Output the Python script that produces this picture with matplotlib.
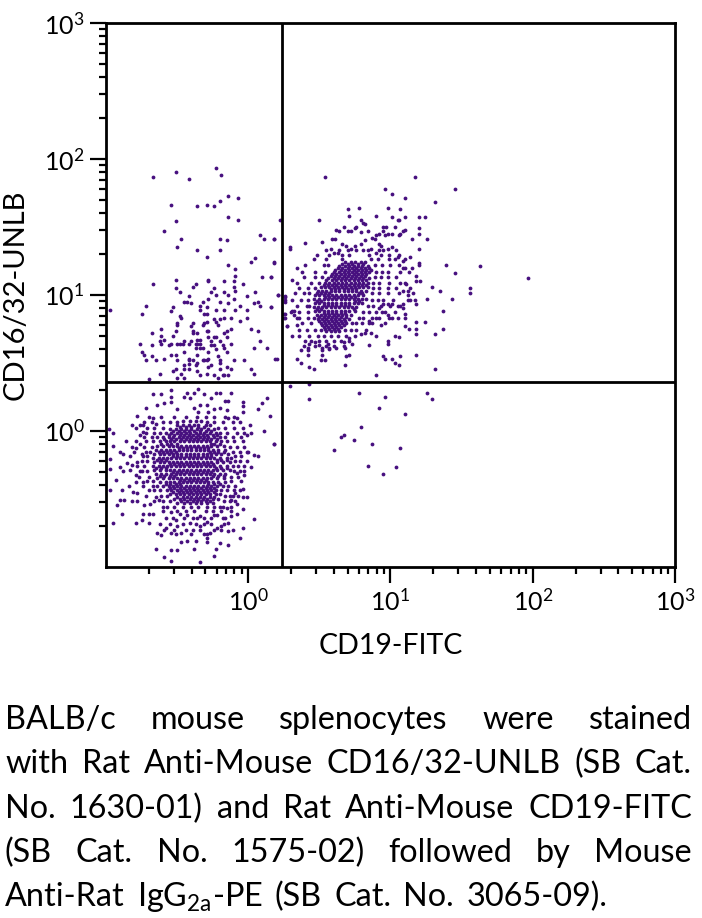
import matplotlib
matplotlib.use('Agg')
import matplotlib.pyplot as plt
from matplotlib.ticker import LogLocator, NullFormatter

# all events as log10(value) pairs
low_core_rows = [
    (0.07, [-0.46, -0.41, -0.37, -0.33]),
    (0.04, [-0.50, -0.46, -0.42, -0.38, -0.35, -0.30, -0.27]),
    (0.01, [-0.55, -0.51, -0.47, -0.44, -0.40, -0.36, -0.33, -0.28, -0.24]),
    (-0.02, [-0.58, -0.54, -0.50, -0.47, -0.44, -0.41, -0.37, -0.34, -0.31, -0.27, -0.23]),
    (-0.05, [-0.60, -0.56, -0.53, -0.49, -0.46, -0.43, -0.40, -0.37, -0.34, -0.31, -0.28, -0.24, -0.20]),
    (-0.08, [-0.62, -0.58, -0.55, -0.52, -0.48, -0.45, -0.42, -0.39, -0.36, -0.33, -0.30, -0.27, -0.23, -0.19]),
    (-0.11, [-0.64, -0.60, -0.56, -0.53, -0.50, -0.47, -0.44, -0.41, -0.38, -0.35, -0.32, -0.29, -0.26, -0.22, -0.17]),
    (-0.14, [-0.65, -0.61, -0.58, -0.55, -0.52, -0.49, -0.46, -0.43, -0.40, -0.37, -0.34, -0.31, -0.28, -0.25, -0.21, -0.16]),
    (-0.17, [-0.66, -0.62, -0.59, -0.56, -0.53, -0.50, -0.47, -0.44, -0.41, -0.38, -0.35, -0.32, -0.29, -0.26, -0.23, -0.19, -0.14]),
    (-0.20, [-0.67, -0.63, -0.60, -0.57, -0.54, -0.51, -0.48, -0.45, -0.42, -0.39, -0.36, -0.33, -0.30, -0.27, -0.24, -0.20, -0.15, -0.12]),
    (-0.23, [-0.66, -0.62, -0.59, -0.56, -0.53, -0.50, -0.47, -0.44, -0.41, -0.38, -0.35, -0.32, -0.29, -0.26, -0.22, -0.18, -0.13]),
    (-0.26, [-0.67, -0.63, -0.60, -0.57, -0.54, -0.51, -0.48, -0.45, -0.42, -0.39, -0.36, -0.33, -0.30, -0.27, -0.24, -0.20, -0.15, -0.11]),
    (-0.29, [-0.66, -0.62, -0.58, -0.55, -0.52, -0.49, -0.46, -0.43, -0.40, -0.37, -0.34, -0.31, -0.28, -0.25, -0.22, -0.18, -0.13]),
    (-0.32, [-0.65, -0.61, -0.58, -0.54, -0.51, -0.48, -0.45, -0.42, -0.39, -0.36, -0.33, -0.30, -0.27, -0.24, -0.20, -0.16]),
    (-0.35, [-0.64, -0.60, -0.56, -0.53, -0.50, -0.47, -0.44, -0.41, -0.38, -0.35, -0.32, -0.29, -0.26, -0.22, -0.17]),
    (-0.38, [-0.62, -0.58, -0.55, -0.52, -0.49, -0.46, -0.43, -0.40, -0.37, -0.34, -0.31, -0.28, -0.25, -0.21, -0.16]),
    (-0.41, [-0.60, -0.56, -0.53, -0.50, -0.47, -0.44, -0.41, -0.38, -0.35, -0.32, -0.29, -0.26, -0.22, -0.18]),
    (-0.44, [-0.57, -0.54, -0.50, -0.47, -0.44, -0.41, -0.38, -0.35, -0.32, -0.29, -0.26, -0.23, -0.19]),
    (-0.47, [-0.55, -0.51, -0.48, -0.45, -0.42, -0.39, -0.36, -0.33, -0.30, -0.27, -0.23, -0.20]),
    (-0.50, [-0.52, -0.48, -0.45, -0.41, -0.38, -0.35, -0.32, -0.29, -0.25, -0.21]),
    (-0.53, [-0.50, -0.45, -0.41, -0.37, -0.33, -0.29, -0.25]),
    (-0.56, [-0.46, -0.40, -0.35, -0.29]),
    # centre of the blob, solid in the reference
    (-0.125, [-0.49, -0.46, -0.43, -0.40, -0.37, -0.34, -0.31, -0.28]),
    (-0.185, [-0.53, -0.50, -0.47, -0.44, -0.41, -0.38, -0.35, -0.32, -0.29, -0.26]),
    (-0.245, [-0.55, -0.52, -0.49, -0.46, -0.43, -0.40, -0.37, -0.34, -0.31, -0.28, -0.25]),
    (-0.305, [-0.53, -0.50, -0.47, -0.44, -0.41, -0.38, -0.35, -0.32, -0.29, -0.26]),
    (-0.365, [-0.48, -0.45, -0.42, -0.39, -0.36, -0.33, -0.30]),
    (0.025, [-0.48, -0.44, -0.40, -0.35, -0.31]),
    (-0.005, [-0.53, -0.49, -0.45, -0.42, -0.38, -0.34, -0.30, -0.26]),
    (-0.035, [-0.56, -0.52, -0.48, -0.45, -0.42, -0.39, -0.35, -0.32, -0.29, -0.25, -0.22]),
    (-0.065, [-0.59, -0.54, -0.51, -0.47, -0.44, -0.41, -0.38, -0.35, -0.32, -0.29, -0.26, -0.22]),
    (-0.095, [-0.61, -0.57, -0.54, -0.50, -0.26, -0.24, -0.20]),
    (-0.155, [-0.63, -0.60, -0.57, -0.54, -0.51, -0.27, -0.24, -0.21, -0.17]),
    (-0.215, [-0.64, -0.61, -0.58, -0.22, -0.19, -0.15]),
    (-0.275, [-0.65, -0.61, -0.58, -0.23, -0.19, -0.15]),
    (-0.335, [-0.62, -0.59, -0.55, -0.52, -0.25, -0.21, -0.17]),
    (-0.395, [-0.58, -0.55, -0.51, -0.48, -0.28, -0.24, -0.20]),
    (-0.425, [-0.55, -0.52, -0.48, -0.45, -0.42, -0.39, -0.36, -0.33, -0.30, -0.27, -0.24]),
    (-0.455, [-0.53, -0.49, -0.46, -0.43, -0.40, -0.37, -0.34, -0.31, -0.28, -0.24]),
    (-0.485, [-0.50, -0.46, -0.43, -0.40, -0.37, -0.34, -0.31, -0.27, -0.24]),
    (-0.515, [-0.47, -0.43, -0.39, -0.36, -0.33, -0.30, -0.27]),
]

low_ring_rows = [
    (0.10, [-0.70, -0.61, -0.52, -0.44, -0.36, -0.30, -0.24, -0.16, -0.10]),
    (0.06, [-0.73, -0.68, -0.60, -0.55, -0.50, -0.29, -0.24, -0.18, -0.11, -0.06]),
    (0.02, [-0.79, -0.71, -0.66, -0.60, -0.21, -0.16, -0.10, -0.04]),
    (-0.02, [-0.72, -0.66, -0.62, -0.20, -0.15, -0.08, -0.03]),
    (-0.05, [-0.73, -0.68, -0.64, -0.16, -0.11, -0.05]),
    (-0.08, [-0.79, -0.72, -0.67, -0.15, -0.10, -0.04]),
    (-0.12, [-0.73, -0.68, -0.13, -0.08, -0.03]),
    (-0.16, [-0.80, -0.72, -0.69, -0.11, -0.06, 0.00]),
    (-0.19, [-0.83, -0.74, -0.71, -0.09, -0.05]),
    (-0.22, [-0.75, -0.71, -0.09, -0.06, -0.01]),
    (-0.26, [-0.78, -0.73, -0.07, -0.03]),
    (-0.30, [-0.76, -0.71, -0.10, -0.06]),
    (-0.34, [-0.77, -0.70, -0.12, -0.07]),
    (-0.37, [-0.71, -0.67, -0.12, -0.05]),
    (-0.41, [-0.74, -0.67, -0.64, -0.14, -0.09]),
    (-0.44, [-0.66, -0.62, -0.15, -0.10, -0.06]),
    (-0.48, [-0.72, -0.61, -0.57, -0.16, -0.11, -0.07]),
    (-0.52, [-0.66, -0.60, -0.55, -0.17, -0.13, -0.09]),
    (-0.56, [-0.57, -0.52, -0.24, -0.18, -0.12]),
    (-0.59, [-0.60, -0.50, -0.44, -0.38, -0.30, -0.25, -0.19, -0.12]),
    (-0.64, [-0.58, -0.53, -0.45, -0.39, -0.36, -0.31, -0.26, -0.18, -0.16]),
    (-0.69, [-0.62, -0.55, -0.46, -0.37, -0.31, -0.26, -0.17]),
    (-0.73, [-0.59, -0.52, -0.44, -0.39, -0.34, -0.24, -0.19, -0.11]),
]

low_outer = [
    (-0.98, 0.01), (-0.95, -0.02), (-0.95, -0.11), (-0.97, -0.21), (-0.97, -0.28), (-0.93, -0.36),
    (-0.97, -0.44), (-0.92, -0.55), (-0.95, -0.68), (-0.89, -0.61), (-0.90, -0.51), (-0.87, -0.51),
    (-0.89, -0.44), (-0.86, -0.08), (-0.82, -0.12), (-0.79, -0.13), (-0.90, -0.16), (-0.88, -0.17),
    (-0.85, -0.24), (-0.82, -0.25), (-0.90, -0.27), (-0.88, -0.30), (-0.83, -0.29), (-0.79, -0.33),
    (-0.79, -0.38), (-0.84, -0.41), (-0.81, -0.45), (-0.78, -0.46), (-0.82, -0.52), (-0.78, -0.52),
    (-0.79, -0.68), (-0.75, -0.66), (-0.70, -0.68), (-0.74, -0.61), (-0.70, -0.61), (-0.67, -0.61),
    (-0.73, -0.55), (-0.69, -0.54), (-0.65, -0.49), (-0.70, -0.44), (-0.74, -0.38), (-0.75, -0.30),
    (-0.78, -0.23), (-0.75, -0.17), (-0.76, -0.10), (-0.76, -0.03), (-0.74, -0.01), (-0.82, 0.04),
    (-0.76, 0.04), (-0.74, 0.04), (-0.78, 0.11), (-0.72, 0.17), (-0.67, 0.09), (-0.65, 0.05),
    (-0.64, 0.19), (-0.67, 0.27), (-0.61, 0.27), (-0.70, 0.38), (-0.54, 0.30), (-0.54, 0.25),
    (-0.59, 0.20), (-0.54, 0.21), (-0.50, 0.16), (-0.45, 0.25), (-0.43, 0.28), (-0.38, 0.28),
    (-0.41, 0.24), (-0.35, 0.31), (-0.31, 0.27), (-0.23, 0.28), (-0.20, 0.28), (-0.12, 0.28),
    (-0.26, 0.24), (-0.16, 0.22), (-0.14, 0.22), (-0.04, 0.21), (-0.04, 0.18), (-0.04, 0.14),
    (-0.20, 0.17), (-0.29, 0.19), (-0.34, 0.19), (-0.38, 0.17), (-0.35, 0.14), (-0.28, 0.14),
    (-0.24, 0.16), (-0.15, 0.15), (-0.08, 0.09), (-0.14, 0.09), (0.13, 0.24), (0.10, 0.20),
    (0.07, 0.16), (0.15, 0.11), (0.01, 0.04), (0.11, 0.00), (0.02, -0.02), (-0.01, -0.03),
    (0.18, -0.10), (-0.01, -0.16), (0.04, -0.18), (0.07, -0.19), (0.02, -0.27), (-0.03, -0.30),
    (-0.03, -0.33), (-0.08, -0.31), (-0.04, -0.43), (-0.01, -0.49), (-0.04, -0.49), (-0.09, -0.46),
    (-0.12, -0.51), (-0.08, -0.54), (-0.04, -0.58), (0.04, -0.65), (-0.08, -0.61), (-0.12, -0.63),
    (-0.15, -0.57), (-0.22, -0.62), (-0.14, -0.68), (-0.19, -0.70), (-0.22, -0.72), (-0.14, -0.74),
    (-0.04, -0.72), (-0.06, -0.79), (-0.14, -0.84), (-0.20, -0.83), (-0.23, -0.87), (-0.24, -0.92),
    (-0.29, -0.76), (-0.29, -0.79), (-0.29, -0.82), (-0.31, -0.76), (-0.27, -0.75), (-0.34, -0.97),
    (-0.37, -0.81), (-0.40, -0.76), (-0.43, -0.81), (-0.47, -0.82), (-0.47, -0.75), (-0.51, -0.76),
    (-0.54, -0.75), (-0.61, -0.77), (-0.64, -0.75), (-0.65, -0.87), (-0.59, -0.93), (-0.54, -0.88),
    (-0.54, -0.96), (-0.50, -0.88), (-0.38, -0.87), (-0.58, -0.72), (-0.50, -0.70), (-0.51, -0.66),
    (-0.41, -0.68), (-0.34, -0.70), (-0.29, -0.67), (-0.34, -0.63), (-0.43, -0.62), (-0.48, -0.61),
    (-0.24, -0.62), (-0.54, -0.60), (-0.60, -0.56), (-0.63, -0.51), (-0.20, -0.56), (-0.13, -0.48),
]

upper_left = [
    (-0.67, 1.87), (-0.51, 1.90), (-0.42, 1.85), (-0.23, 1.93), (-0.19, 1.88), (-0.54, 1.66),
    (-0.36, 1.65), (-0.29, 1.66), (-0.24, 1.65), (-0.20, 1.69), (-0.14, 1.73), (-0.07, 1.71),
    (-0.14, 1.57), (-0.07, 1.55), (-0.51, 1.54), (-0.59, 1.47), (-0.47, 1.41), (-0.50, 1.35),
    (-0.36, 1.33), (-0.29, 1.28), (-0.20, 1.41), (-0.15, 1.40), (-0.20, 1.33), (0.22, 1.55),
    (0.08, 1.44), (0.11, 1.41), (0.18, 1.41), (0.29, 1.35), (0.05, 1.27), (0.02, 1.24),
    (0.18, 1.24), (-0.14, 1.22), (-0.09, 1.19), (-0.09, 1.14), (0.10, 1.13), (0.16, 1.13),
    (-0.51, 1.11), (-0.67, 1.08), (-0.28, 1.11), (-0.28, 1.10), (-0.17, 1.10), (-0.10, 1.10),
    (-0.10, 1.06), (-0.04, 1.08), (-0.37, 1.08), (-0.39, 1.06), (-0.51, 1.05), (-0.48, 1.02),
    (-0.24, 1.05), (-0.09, 1.03), (-0.26, 1.02), (-0.23, 1.00), (-0.17, 1.02), (-0.14, 1.00),
    (-0.01, 0.99), (0.05, 1.02), (0.21, 1.00), (0.26, 0.99), (0.26, 0.95), (-0.42, 0.99),
    (-0.45, 0.95), (-0.43, 0.95), (-0.40, 0.94), (-0.28, 0.97), (-0.20, 0.95), (-0.10, 0.97),
    (-0.32, 0.95), (-0.34, 0.92), (-0.29, 0.91), (-0.34, 0.89), (-0.23, 0.89), (-0.17, 0.89),
    (-0.14, 0.94), (-0.06, 0.92), (-0.09, 0.89), (-0.01, 0.89), (0.04, 0.94), (0.07, 0.95),
    (0.08, 0.92), (0.16, 0.91), (-0.97, 0.89), (-0.72, 0.92), (-0.75, 0.86), (-0.54, 0.88),
    (-0.53, 0.91), (-0.48, 0.84), (-0.47, 0.83), (-0.50, 0.79), (-0.50, 0.78), (-0.39, 0.79),
    (-0.40, 0.77), (-0.31, 0.86), (-0.29, 0.86), (-0.31, 0.79), (-0.29, 0.80), (-0.32, 0.78),
    (-0.24, 0.82), (-0.23, 0.80), (-0.21, 0.78), (-0.20, 0.82), (-0.17, 0.83), (-0.12, 0.83),
    (-0.06, 0.81), (-0.01, 0.83), (0.26, 0.86), (0.26, 0.83), (0.27, 0.77), (0.02, 0.75),
    (0.07, 0.73), (-0.12, 0.75), (-0.15, 0.73), (-0.17, 0.72), (-0.29, 0.73), (-0.28, 0.73),
    (-0.39, 0.73), (-0.39, 0.72), (-0.36, 0.72), (-0.51, 0.73), (-0.61, 0.75), (-0.68, 0.72),
    (-0.61, 0.70), (-0.53, 0.70), (-0.59, 0.67), (-0.62, 0.66), (-0.61, 0.64), (-0.76, 0.64),
    (-0.68, 0.63), (-0.56, 0.63), (-0.54, 0.64), (-0.50, 0.64), (-0.48, 0.64), (-0.46, 0.64),
    (-0.45, 0.66), (-0.42, 0.64), (-0.40, 0.66), (-0.36, 0.67), (-0.34, 0.67), (-0.37, 0.64),
    (-0.36, 0.64), (-0.34, 0.64), (-0.37, 0.61), (-0.34, 0.61), (-0.32, 0.61), (-0.28, 0.69),
    (-0.24, 0.69), (-0.23, 0.69), (-0.15, 0.69), (-0.26, 0.66), (-0.20, 0.66), (-0.26, 0.63),
    (-0.24, 0.63), (-0.18, 0.63), (-0.17, 0.61), (-0.12, 0.64), (0.08, 0.66), (0.04, 0.61),
    (0.13, 0.61), (-0.23, 0.60), (-0.15, 0.58), (-0.28, 0.58), (-0.45, 0.58), (-0.36, 0.56),
    (-0.54, 0.56), (-0.51, 0.56), (-0.75, 0.58), (-0.73, 0.56), (-0.68, 0.55), (-0.72, 0.52),
    (-0.65, 0.52), (-0.59, 0.53), (-0.50, 0.52), (-0.42, 0.53), (-0.42, 0.52), (-0.39, 0.52),
    (-0.32, 0.52), (-0.31, 0.52), (-0.29, 0.52), (-0.28, 0.53), (-0.21, 0.55), (-0.20, 0.52),
    (-0.20, 0.50), (-0.10, 0.52), (-0.03, 0.52), (0.19, 0.53), (-0.36, 0.50), (-0.37, 0.48),
    (-0.42, 0.49), (-0.45, 0.48), (-0.26, 0.48), (-0.28, 0.47), (-0.15, 0.47), (-0.12, 0.45),
    (0.02, 0.45), (0.04, 0.42), (-0.51, 0.45), (-0.53, 0.44), (-0.42, 0.45), (-0.45, 0.45),
    (-0.36, 0.44), (-0.20, 0.45), (-0.62, 0.42), (-0.47, 0.42), (-0.34, 0.41), (-0.29, 0.42),
    (-0.24, 0.41), (-0.18, 0.41), (-0.17, 0.41), (-0.14, 0.41), (-0.50, 0.39), (-0.45, 0.39),
    (-0.21, 0.39),
]

high_core_rows = [
    (1.24, [0.68, 0.72, 0.75, 0.79, 0.82]),
    (1.21, [0.64, 0.68, 0.71, 0.74, 0.77, 0.80, 0.84]),
    (1.18, [0.61, 0.65, 0.68, 0.71, 0.74, 0.77, 0.80, 0.83, 0.86]),
    (1.15, [0.59, 0.62, 0.65, 0.68, 0.71, 0.74, 0.77, 0.80, 0.83]),
    (1.12, [0.56, 0.60, 0.63, 0.66, 0.69, 0.72, 0.75, 0.78, 0.81, 0.85]),
    (1.09, [0.54, 0.57, 0.60, 0.63, 0.66, 0.69, 0.72, 0.75, 0.78, 0.81, 0.84]),
    (1.06, [0.51, 0.54, 0.57, 0.60, 0.63, 0.66, 0.69, 0.72, 0.75, 0.78, 0.81, 0.84]),
    (1.03, [0.49, 0.52, 0.55, 0.58, 0.61, 0.64, 0.67, 0.70, 0.73, 0.76, 0.79, 0.83]),
    (1.00, [0.47, 0.50, 0.53, 0.56, 0.59, 0.62, 0.65, 0.68, 0.71, 0.74, 0.77, 0.81]),
    (0.97, [0.46, 0.50, 0.53, 0.56, 0.59, 0.62, 0.65, 0.68, 0.71, 0.74, 0.77, 0.80, 0.83]),
    (0.94, [0.47, 0.50, 0.53, 0.56, 0.59, 0.62, 0.65, 0.68, 0.71, 0.74, 0.77, 0.80]),
    (0.91, [0.46, 0.49, 0.52, 0.55, 0.58, 0.61, 0.64, 0.67, 0.70, 0.73, 0.76]),
    (0.88, [0.47, 0.50, 0.53, 0.56, 0.59, 0.62, 0.65, 0.68, 0.71, 0.75]),
    (0.85, [0.48, 0.51, 0.54, 0.57, 0.60, 0.63, 0.66, 0.69, 0.72]),
    (0.82, [0.49, 0.52, 0.55, 0.58, 0.61, 0.64, 0.67, 0.71]),
    (0.79, [0.51, 0.54, 0.57, 0.60, 0.63, 0.66, 0.69]),
    (0.76, [0.53, 0.56, 0.59, 0.62, 0.65]),
    (0.73, [0.55, 0.58, 0.61, 0.64]),
    (1.045, [0.58, 0.61, 0.64, 0.67, 0.70, 0.73, 0.76]),
    (0.985, [0.54, 0.57, 0.60, 0.63, 0.66, 0.69, 0.72, 0.75]),
    (0.925, [0.53, 0.56, 0.59, 0.62, 0.65, 0.68, 0.71]),
    (0.865, [0.53, 0.56, 0.59, 0.62, 0.65, 0.68]),
    (1.225, [0.66, 0.70, 0.73, 0.77, 0.81]),
    (1.195, [0.63, 0.66, 0.70, 0.73, 0.76, 0.79, 0.82, 0.85]),
    (1.165, [0.60, 0.64, 0.67, 0.70, 0.73, 0.76, 0.79, 0.82, 0.85]),
    (1.135, [0.58, 0.61, 0.64, 0.67, 0.70, 0.73, 0.76, 0.79, 0.82]),
    (1.105, [0.55, 0.59, 0.62, 0.65, 0.68, 0.71, 0.74, 0.77, 0.80, 0.83]),
    (1.075, [0.53, 0.56, 0.59, 0.62, 0.65, 0.68, 0.71, 0.74, 0.77, 0.80, 0.83]),
    (1.015, [0.48, 0.51, 0.54, 0.57, 0.78, 0.80]),
    (0.955, [0.48, 0.51, 0.75, 0.78]),
    (0.895, [0.48, 0.51, 0.74]),
    (0.835, [0.50, 0.53, 0.56, 0.59, 0.62, 0.65, 0.69]),
    (0.805, [0.50, 0.53, 0.56, 0.59, 0.62, 0.65, 0.68]),
    (0.775, [0.52, 0.55, 0.58, 0.61, 0.64, 0.67]),
    (0.745, [0.54, 0.57, 0.60, 0.63]),
]

high_ring_rows = [
    (1.33, [0.55, 0.64, 0.70, 0.76, 0.84, 0.92, 1.04]),
    (1.29, [0.48, 0.57, 0.66, 0.71, 0.85, 0.93, 0.99, 1.06]),
    (1.26, [0.46, 0.55, 0.66, 0.86, 0.91, 0.99, 1.03, 1.10]),
    (1.22, [0.40, 0.53, 0.56, 0.89, 0.94, 1.00, 1.06]),
    (1.17, [0.38, 0.47, 0.54, 0.90, 0.94, 0.98, 1.07, 1.13]),
    (1.13, [0.39, 0.47, 0.52, 0.89, 0.93, 0.98, 1.04]),
    (1.09, [0.34, 0.44, 0.50, 0.88, 0.92, 0.99, 1.07]),
    (1.05, [0.36, 0.42, 0.47, 0.88, 0.92, 0.98, 1.04, 1.14]),
    (1.01, [0.33, 0.39, 0.43, 0.87, 0.92, 0.98, 1.06, 1.16]),
    (0.96, [0.31, 0.37, 0.42, 0.87, 0.91, 0.95, 1.02, 1.14]),
    (0.92, [0.34, 0.41, 0.43, 0.84, 0.88, 0.93, 1.00, 1.07]),
    (0.87, [0.30, 0.36, 0.42, 0.81, 0.85, 0.90, 0.96, 1.03]),
    (0.83, [0.36, 0.42, 0.46, 0.78, 0.81, 0.87, 0.92, 0.99]),
    (0.79, [0.38, 0.44, 0.73, 0.76, 0.80, 0.87, 0.96]),
    (0.74, [0.36, 0.41, 0.47, 0.51, 0.68, 0.72, 0.76, 0.83]),
    (0.70, [0.36, 0.43, 0.49, 0.53, 0.58, 0.63, 0.69, 0.75]),
    (0.66, [0.40, 0.44, 0.50, 0.55, 0.60, 0.65, 0.71]),
    (0.62, [0.39, 0.47, 0.55, 0.60, 0.67]),
]

high_outer = [
    (0.54, 1.87), (1.17, 1.87), (0.96, 1.78), (1.45, 1.78), (1.01, 1.74), (1.10, 1.71), (1.31, 1.68),
    (0.98, 1.64), (1.07, 1.63), (0.78, 1.64), (0.70, 1.63), (0.71, 1.58), (0.90, 1.58), (0.50, 1.55),
    (1.01, 1.57), (1.10, 1.57), (1.20, 1.57), (1.24, 1.57), (1.05, 1.55), (1.06, 1.55), (0.79, 1.55),
    (0.81, 1.53), (0.82, 1.52), (0.67, 1.50), (0.62, 1.48), (0.64, 1.47), (0.70, 1.47), (0.72, 1.47),
    (0.75, 1.49), (0.76, 1.50), (0.79, 1.46), (0.84, 1.47), (0.95, 1.50), (0.97, 1.50), (1.03, 1.50),
    (1.20, 1.49), (1.20, 1.45), (1.10, 1.48), (1.09, 1.47), (1.07, 1.45), (1.06, 1.44), (0.95, 1.47),
    (0.98, 1.45), (0.96, 1.44), (1.01, 1.45), (0.92, 1.45), (0.90, 1.44), (0.87, 1.42), (0.89, 1.41),
    (0.92, 1.37), (0.93, 1.36), (0.59, 1.41), (0.61, 1.41), (0.52, 1.39), (0.40, 1.38), (0.29, 1.34),
    (0.18, 1.41), (0.18, 1.23), (0.16, 1.13), (0.21, 1.00), (0.16, 0.91), (0.20, 0.53), (0.34, 1.20),
    (0.31, 1.11), (0.26, 0.98), (0.26, 0.96), (0.25, 0.86), (0.25, 0.83), (0.27, 0.77), (0.31, 0.88),
    (0.32, 0.88), (0.32, 0.85), (0.34, 0.83), (0.34, 0.78), (0.31, 0.70), (0.34, 0.53), (0.37, 0.50),
    (0.37, 0.59), (0.43, 0.47), (0.46, 0.45), (0.42, 0.59), (0.42, 0.56), (0.43, 0.64), (0.42, 0.61),
    (0.47, 0.65), (0.50, 0.63), (0.52, 0.61), (0.52, 0.59), (0.52, 0.56), (0.51, 0.52), (0.54, 0.52),
    (0.56, 0.64), (0.57, 0.61), (0.57, 0.60), (0.62, 0.61), (0.67, 0.65), (0.68, 0.61), (0.71, 0.68),
    (0.73, 0.64), (0.71, 0.56), (0.69, 0.55), (0.68, 0.48), (0.85, 0.63), (0.90, 0.41), (0.90, 0.70),
    (0.98, 0.66), (0.98, 0.64), (1.03, 0.70), (1.06, 0.69), (0.95, 0.55), (0.96, 0.53), (1.01, 0.53),
    (1.03, 0.50), (1.06, 0.48), (1.07, 0.55), (1.18, 0.56), (1.31, 0.45), (1.31, 0.71), (1.37, 0.75),
    (1.24, 0.80), (1.18, 0.80), (1.18, 0.75), (1.18, 0.71), (1.13, 0.75), (1.10, 0.77), (1.37, 0.88),
    (1.43, 0.97), (1.35, 1.03), (1.26, 0.97), (1.29, 1.06), (1.45, 1.16), (1.56, 1.05), (1.56, 1.01),
    (1.39, 1.22), (1.26, 1.41), (1.20, 1.34), (1.15, 1.41), (1.14, 1.28), (1.20, 1.23), (1.20, 1.22),
    (1.15, 1.20), (1.10, 1.20), (1.09, 1.20), (1.09, 1.25), (1.05, 1.28), (1.18, 1.14), (1.18, 1.10),
    (1.21, 1.10), (1.11, 1.08), (1.10, 1.09), (1.12, 1.03), (1.09, 1.03), (1.12, 1.00), (1.17, 0.96),
    (1.18, 0.93), (1.12, 0.96), (1.09, 0.93), (1.09, 0.90), (1.10, 0.86), (1.10, 0.83), (1.05, 0.83),
    (1.01, 0.83), (0.98, 0.85), (0.94, 0.87), (1.05, 0.92), (1.01, 0.93), (0.98, 0.93), (0.95, 0.93),
    (0.92, 0.90), (0.90, 0.83), (0.93, 0.78), (0.85, 0.81), (0.85, 0.79), (0.86, 0.72), (0.82, 0.72),
    (0.79, 0.71), (0.58, 1.34), (0.60, 1.31), (0.63, 1.31), (0.66, 1.37), (0.69, 1.36), (0.72, 1.34),
    (0.75, 1.36), (0.79, 1.37), (0.82, 1.40), (0.86, 1.34), (0.81, 1.33), (0.90, 1.31), (0.95, 1.33),
    (0.98, 1.34), (1.01, 1.35), (1.97, 1.12), (1.63, 1.21),
]

lower_right = [
    (0.29, 0.33), (0.43, 0.34), (0.43, 0.23), (0.78, 0.28), (0.96, 0.25), (1.26, 0.28), (1.29, 0.23),
    (0.92, 0.17), (1.10, 0.12), (0.79, 0.03), (0.67, -0.03), (0.65, -0.05), (0.74, -0.07), (0.87, -0.10),
    (0.18, -0.10), (1.07, -0.13), (0.60, -0.14), (0.84, -0.26), (1.04, -0.27), (0.95, -0.32),
]

x_gate = 1.72
y_gate = 2.29
x_label = 'CD19-FITC'
y_label = 'CD16/32-UNLB'
caption_lines = [
    'BALB/c mouse splenocytes were stained',
    'with Rat Anti-Mouse CD16/32-UNLB (SB Cat.',
    'No. 1630-01) and Rat Anti-Mouse CD19-FITC',
    '(SB Cat. No. 1575-02) followed by Mouse',
    r'Anti-Rat IgG$_{\mathregular{2a}}$-PE (SB Cat. No. 3065-09).',
]

plt.rcParams['font.family'] = ['Lato', 'DejaVu Sans']
plt.rcParams['mathtext.fontset'] = 'custom'
plt.rcParams['mathtext.rm'] = 'Lato'
plt.rcParams['mathtext.default'] = 'regular'

W, H = 702, 918
fig = plt.figure(figsize=(W / 100, H / 100), dpi=100)
ax = fig.add_axes([106 / W, 1 - 566.5 / H, (675 - 106) / W, (566.5 - 23) / H])

events = []
for y, xs in low_core_rows + low_ring_rows + high_core_rows + high_ring_rows:
    events += [(x, y) for x in xs]
events += low_outer + upper_left + high_outer + lower_right
ax.scatter([10 ** e[0] for e in events], [10 ** e[1] for e in events],
           s=7.5, color='#47107f', linewidths=0, zorder=2)

ax.axvline(x_gate, color='black', lw=2, zorder=3)
ax.axhline(y_gate, color='black', lw=2, zorder=3)

ax.set_xscale('log')
ax.set_yscale('log')
ax.set_xlim(0.1, 1000)
ax.set_ylim(0.1, 1000)
for a in (ax.xaxis, ax.yaxis):
    a.set_major_locator(LogLocator(base=10, numticks=8))
    a.set_minor_locator(LogLocator(base=10, subs=range(2, 10), numticks=8))
    a.set_minor_formatter(NullFormatter())
ax.set_xticks([1, 10, 100, 1000])
ax.set_xticklabels([r'$10^{0}$', r'$10^{1}$', r'$10^{2}$', r'$10^{3}$'])
ax.set_yticks([1, 10, 100, 1000])
ax.set_yticklabels([r'$10^{0}$', r'$10^{1}$', r'$10^{2}$', r'$10^{3}$'])
ax.tick_params(which='major', length=11.5, width=1.6, labelsize=18, pad=4)
ax.tick_params(which='minor', length=5, width=1.6)
for s in ax.spines.values():
    s.set_linewidth(2)

fig.text(391 / W, 1 - 646 / H, x_label, fontsize=20.5, ha='center', va='center')
fig.text(16 / W, 1 - 295 / H, y_label, fontsize=21, ha='center', va='center', rotation=90)

# justify the caption by hand, the last line ends short of the margin
renderer = fig.canvas.get_renderer()
baselines = [729, 773, 818, 862, 906]
right_edges = [692, 692, 692, 692, 607]
left = 5
for line, base, right in zip(caption_lines, baselines, right_edges):
    words = line.split(' ')
    items = [fig.text(0, 1 - base / H, w, fontsize=23.3, ha='left', va='baseline') for w in words]
    widths = [t.get_window_extent(renderer).width for t in items]
    gap = (right - left - sum(widths)) / (len(words) - 1)
    pos = left
    for t, w in zip(items, widths):
        t.set_x(pos / W)
        pos += w + gap

fig.savefig('out.png', dpi=100)
